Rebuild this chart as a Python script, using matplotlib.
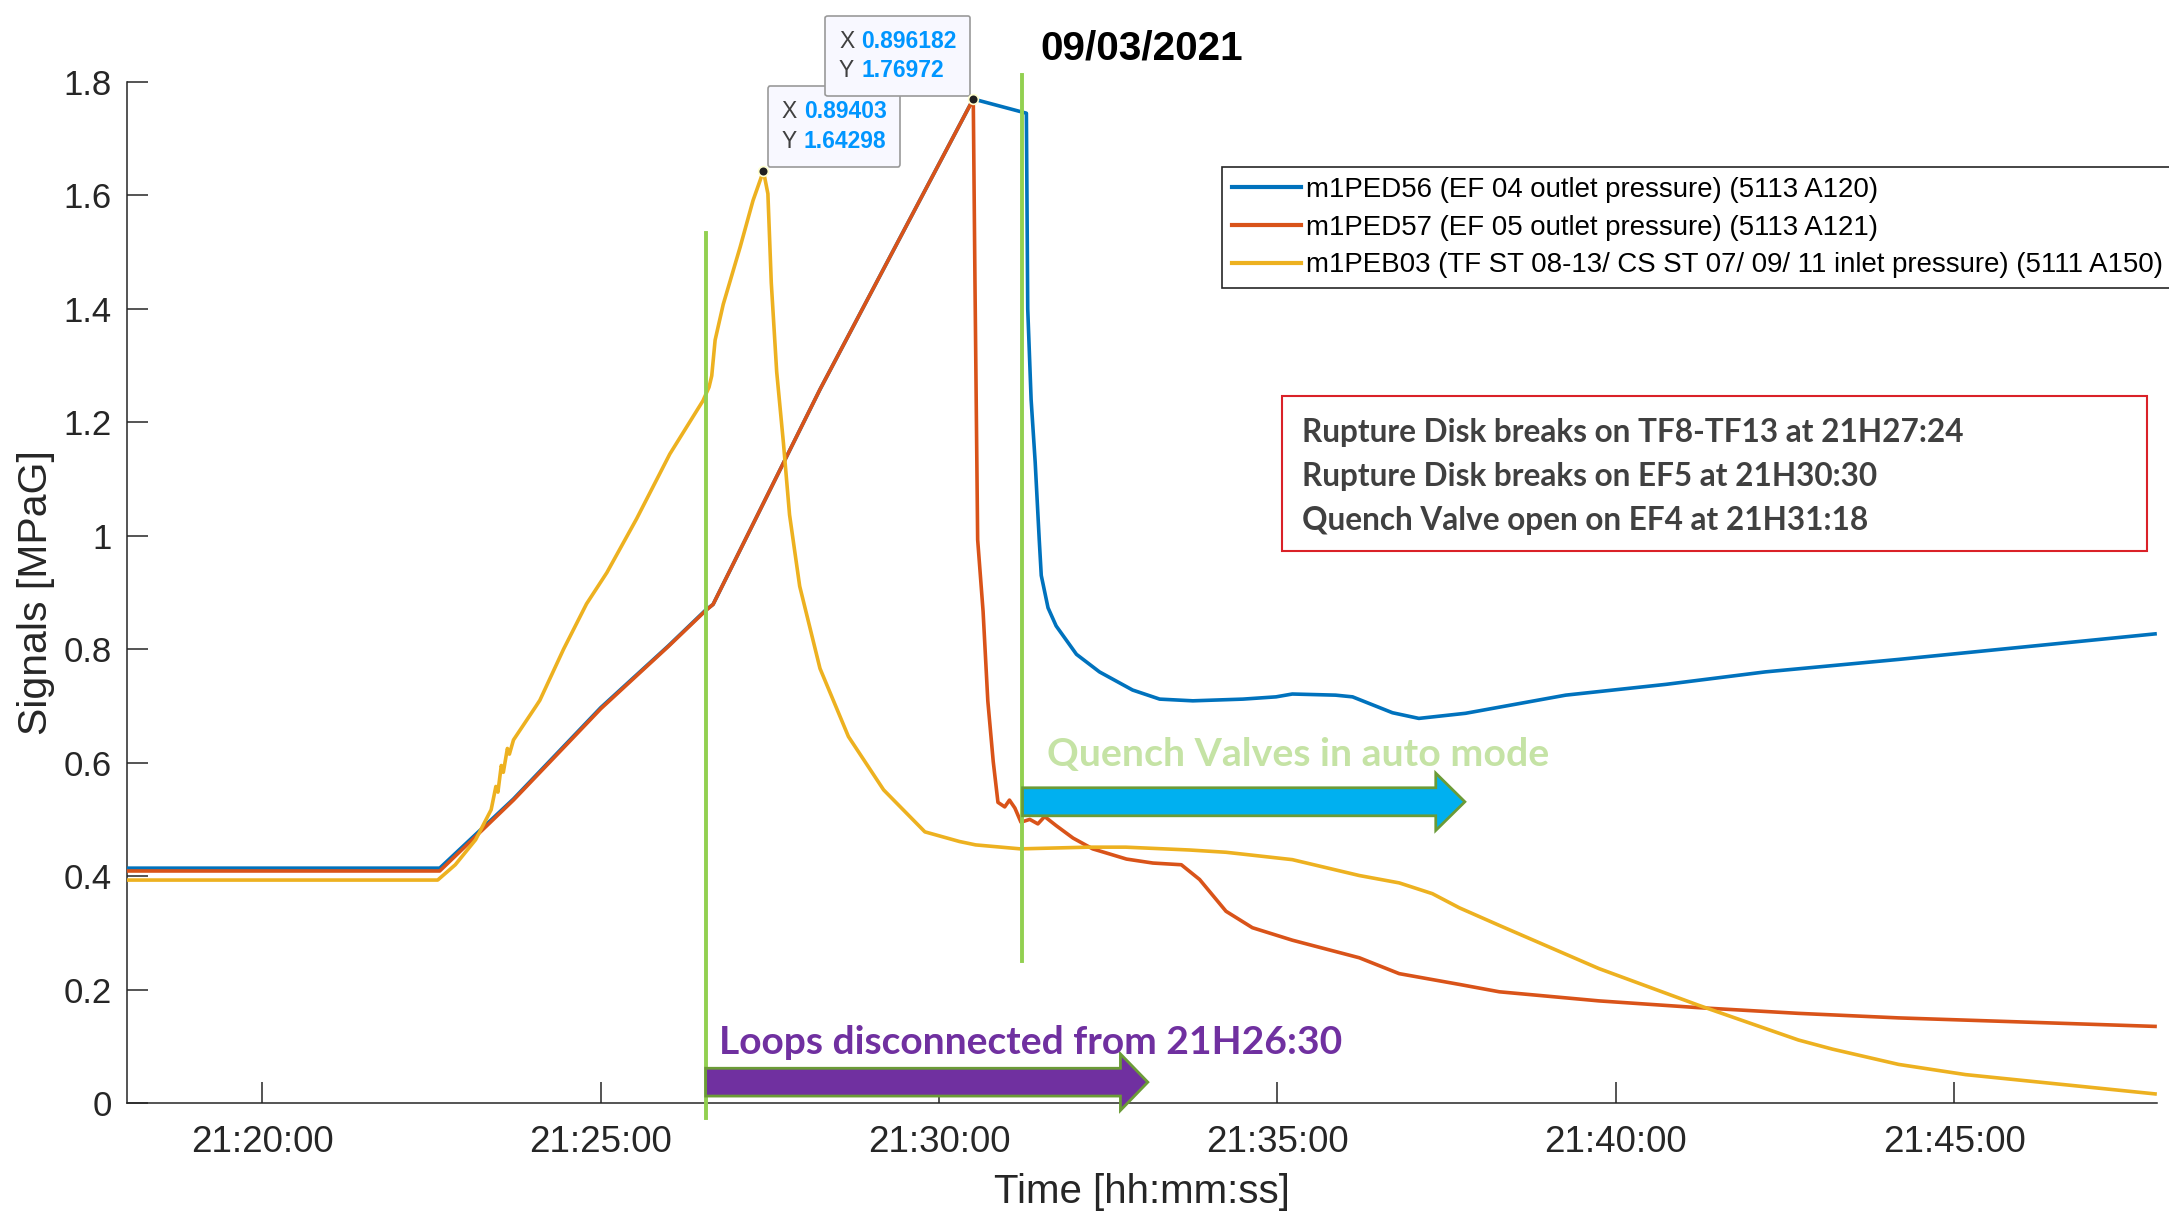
import matplotlib
matplotlib.use("Agg")
import matplotlib.pyplot as plt
from matplotlib.patches import FancyArrow, Rectangle
from matplotlib.ticker import FuncFormatter, MultipleLocator
from matplotlib.offsetbox import TextArea, HPacker, VPacker, AnnotationBbox

plt.rcParams["font.family"] = ["Liberation Sans", "DejaVu Sans"]

# time axis: minutes after 21:00:00
t_ped56 = [18.0, 22.62, 23.71, 25.0, 26.0, 26.55, 26.66, 28.24, 30.505, 31.29, 31.31,
           31.36, 31.42, 31.48, 31.51, 31.61, 31.73, 32.03, 32.37, 32.86, 33.26, 33.75,
           34.49, 34.98, 35.22, 35.86, 36.11, 36.70, 37.09, 37.78, 39.26, 40.74, 42.21,
           44.18, 47.97]
p_ped56 = [0.414, 0.414, 0.536, 0.697, 0.806, 0.869, 0.879, 1.258, 1.770, 1.745, 1.40,
           1.24, 1.13, 0.993, 0.930, 0.873, 0.841, 0.791, 0.760, 0.728, 0.712, 0.709,
           0.712, 0.716, 0.721, 0.719, 0.716, 0.688, 0.678, 0.687, 0.719, 0.738, 0.760,
           0.782, 0.827]

t_ped57 = [18.0, 22.62, 23.71, 25.0, 26.0, 26.55, 26.66, 28.24, 30.505, 30.53, 30.57,
           30.65, 30.72, 30.80, 30.87, 30.97, 31.04, 31.12, 31.21, 31.34, 31.46, 31.56,
           31.73, 31.98, 32.27, 32.77, 33.16, 33.58, 33.85, 34.24, 34.63, 35.22, 36.21,
           36.80, 37.69, 38.28, 39.75, 41.23, 42.70, 44.18, 47.97]
p_ped57 = [0.409, 0.409, 0.534, 0.695, 0.805, 0.868, 0.879, 1.258, 1.770, 1.45, 0.993,
           0.867, 0.709, 0.602, 0.530, 0.522, 0.534, 0.520, 0.495, 0.500, 0.492, 0.505,
           0.489, 0.467, 0.448, 0.430, 0.423, 0.420, 0.394, 0.338, 0.309, 0.287, 0.256,
           0.228, 0.209, 0.196, 0.180, 0.168, 0.158, 0.150, 0.135]

t_peb03 = [18.0, 22.59, 22.85, 23.15, 23.38, 23.45, 23.48, 23.53, 23.56, 23.62, 23.65,
           23.71, 24.04, 24.10, 24.45, 24.79, 25.09, 25.53, 26.02, 26.51, 26.60, 26.64,
           26.69, 26.81, 27.06, 27.25, 27.404, 27.47, 27.52, 27.60, 27.70, 27.79, 27.94,
           28.24, 28.66, 29.18, 29.79, 30.30, 30.54, 31.2, 32.2, 32.76, 33.7, 34.24,
           35.22, 36.21, 36.80, 37.29, 37.69, 38.28, 39.75, 41.23, 42.70, 43.20, 44.18,
           45.17, 47.97]
p_peb03 = [0.393, 0.393, 0.42, 0.464, 0.517, 0.558, 0.548, 0.595, 0.583, 0.625, 0.615,
           0.640, 0.699, 0.710, 0.800, 0.880, 0.935, 1.030, 1.144, 1.238, 1.262, 1.282,
           1.345, 1.408, 1.509, 1.591, 1.643, 1.603, 1.446, 1.289, 1.163, 1.037, 0.911,
           0.766, 0.646, 0.552, 0.478, 0.461, 0.455, 0.448, 0.451, 0.451, 0.446, 0.442,
           0.429, 0.401, 0.388, 0.369, 0.344, 0.313, 0.237, 0.172, 0.111, 0.095, 0.068,
           0.050, 0.016]

labels = ["m1PED56 (EF 04 outlet pressure) (5113 A120)",
          "m1PED57 (EF 05 outlet pressure) (5113 A121)",
          "m1PEB03 (TF ST 08-13/ CS ST 07/ 09/ 11 inlet pressure) (5111 A150)"]
colors = ["#0072BD", "#D95319", "#EDB120"]

# data tips (point, text shown)
tip_points = [(27.404, 1.64298), (30.505, 1.76972)]
tip_texts = [("0.89403", "1.64298"), ("0.896182", "1.76972")]

# event markers (minutes after 21:00)
t_disconnect = 26.55
t_quench = 31.22

events = ["Rupture Disk breaks on TF8-TF13 at 21H27:24",
          "Rupture Disk breaks on EF5 at 21H30:30",
          "Quench Valve open on EF4 at 21H31:18"]

AX_COL = "#262626"

fig = plt.figure(figsize=(21.69, 12.11), dpi=100)
ax = fig.add_axes([0.0586, 0.0892, 0.9359, 0.8431])

for t, p, c, lab in zip([t_ped56, t_ped57, t_peb03], [p_ped56, p_ped57, p_peb03], colors, labels):
    ax.plot(t, p, color=c, lw=2.6, label=lab, zorder=3)

ax.set_xlim(18, 48)
ax.set_ylim(0, 1.8)
ax.xaxis.set_major_locator(MultipleLocator(5))
ax.yaxis.set_major_locator(MultipleLocator(0.2))


def hms(m, pos=None):
    s = int(round(m * 60))
    return f"21:{s // 60:02d}:{s % 60:02d}"


ax.xaxis.set_major_formatter(FuncFormatter(hms))
ax.yaxis.set_major_formatter(FuncFormatter(lambda v, pos: f"{v:g}"))
ax.tick_params(direction="in", length=15, width=1.1, labelsize=25, colors=AX_COL)
ax.tick_params(axis="x", pad=16, labelsize=26.5)
ax.tick_params(axis="y", pad=11)
for side in ["top", "right"]:
    ax.spines[side].set_visible(False)
for side in ["left", "bottom"]:
    ax.spines[side].set_color(AX_COL)
    ax.spines[side].set_linewidth(1.1)

ax.set_xlabel("Time [hh:mm:ss]", fontsize=29, color=AX_COL, labelpad=9)
ax.set_ylabel("Signals [MPaG]", fontsize=29.5, color=AX_COL, labelpad=6)
ax.set_title("09/03/2021", fontsize=29.2, fontweight="bold", pad=16)

leg = ax.legend(loc="upper left", bbox_to_anchor=(1222 / 2169, 1 - 167.3 / 1211),
                bbox_transform=fig.transFigure, fontsize=19.9, frameon=True, fancybox=False,
                borderaxespad=0, borderpad=0.35, handlelength=2.5, handletextpad=0.2,
                labelspacing=0.42)
leg.get_frame().set_edgecolor(AX_COL)
leg.get_frame().set_linewidth(1.2)
leg.get_frame().set_alpha(1)
for h in leg.get_lines():
    h.set_linewidth(3)

# green event lines
ax.plot([t_disconnect, t_disconnect], [-0.027, 1.534], color="#92D050", lw=2.8,
        clip_on=False, zorder=4)
ax.plot([t_quench, t_quench], [0.251, 1.812], color="#92D050", lw=2.8,
        clip_on=False, zorder=4)

# arrows
ax.add_patch(FancyArrow(31.233, 0.531, 6.537, 0, width=0.0494, head_width=0.101,
                        head_length=0.43, length_includes_head=True, fc="#00B0F0",
                        ec="#6B9B37", lw=2, clip_on=False, zorder=5))
ax.add_patch(FancyArrow(26.55, 0.0367, 6.535, 0, width=0.049, head_width=0.0996,
                        head_length=0.405, length_includes_head=True, fc="#7030A0",
                        ec="#6B9B37", lw=2, clip_on=False, zorder=5))
ax.text(31.59, 0.594, "Quench Valves in auto mode", family="Lato", fontweight="bold",
        fontsize=28.3, color="#C5E3A5", va="baseline", zorder=6)
ax.text(26.75, 0.086, "Loops disconnected from 21H26:30", family="Lato",
        fontweight="bold", fontsize=28.1, color="#7030A0", va="baseline", zorder=6)

# event box
fig.patches.append(Rectangle((1281.5 / 2169, 1 - 550.7 / 1211), 865.5 / 2169, 155 / 1211,
                             transform=fig.transFigure, fill=False, ec="#DA2128", lw=1.5))
for i, line in enumerate(events):
    fig.text(1301.5 / 2169, 1 - (441.7 + 44.2 * i) / 1211, line, family="Lato",
             fontweight="bold", fontsize=22.7, color="#404040", va="baseline")

# data tips
for (x, y), (xs, ys), align, off in zip(tip_points, tip_texts, [(0, 0), (1, 0)],
                                        [(3, 3), (-2, 2)]):
    rows = []
    for lab, val in (("X", xs), ("Y", ys)):
        rows.append(HPacker(children=[
            TextArea(lab, textprops=dict(color="#404040", size=16.5)),
            TextArea(val, textprops=dict(color="#0096FF", size=16.5, weight="bold"))],
            pad=0, sep=5))
    box = VPacker(children=rows, pad=10, sep=5)
    ab = AnnotationBbox(box, (x, y), xybox=off, boxcoords="offset points",
                        box_alignment=align, frameon=True, pad=0,
                        bboxprops=dict(boxstyle="round,pad=0,rounding_size=0.2",
                                       fc="#F8F8FF", ec="#9A9A9A", lw=1.2),
                        annotation_clip=False, zorder=7)
    ax.add_artist(ab)
    ax.plot(x, y, "o", ms=7, mfc="#202020", mec="#FFFFD0", mew=1.2, zorder=8,
            clip_on=False)

fig.savefig("out.png", dpi=100)
